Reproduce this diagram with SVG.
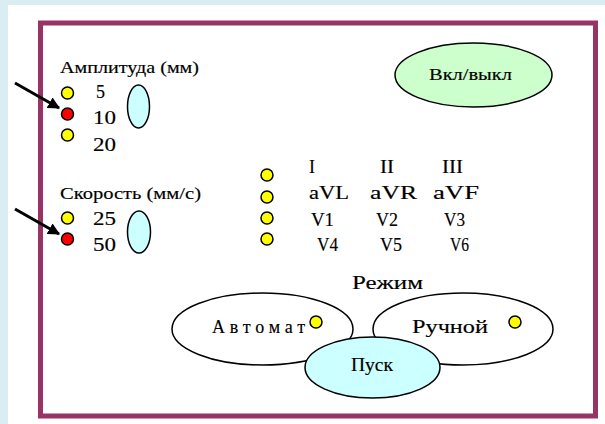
<svg xmlns="http://www.w3.org/2000/svg" width="605" height="424" viewBox="0 0 605 424">
<style>
text{font-family:'Liberation Serif','DejaVu Serif','Times New Roman',serif;font-size:18px;fill:#000;stroke:#000;stroke-width:0.15}
.lbl{font-size:16px}
.y{fill:#ffff00;stroke:#000;stroke-width:1.5}
.r{fill:#ff0000;stroke:#000;stroke-width:1.5}
.cy{fill:#ccffff;stroke:#000;stroke-width:1.5}
.wh{fill:#fff;stroke:#000;stroke-width:1.5}
.gr{fill:#ccffcc;stroke:#000;stroke-width:1.5}
.arr{stroke:#000;stroke-width:3;fill:none;marker-end:url(#ah)}
</style>
<defs>
<marker id="ah" viewBox="0 0 10 10" refX="9" refY="5" markerWidth="4" markerHeight="4" orient="auto" markerUnits="strokeWidth">
<path d="M0,0 L10,5 L0,10 z" fill="#000"/>
</marker>
</defs>
<rect x="0" y="0" width="605" height="424" fill="#daedf3"/>
<rect x="8" y="5" width="597" height="419" fill="#fff"/>
<rect x="40.5" y="23" width="555" height="393" fill="#fff" stroke="#993366" stroke-width="5"/>

<g id="amplitude">
<text class="lbl" x="60" y="73" textLength="139" lengthAdjust="spacingAndGlyphs">Амплитуда (мм)</text>
<circle class="y" cx="67.5" cy="93" r="6"/>
<circle class="r" cx="67.5" cy="114" r="6"/>
<circle class="y" cx="67.5" cy="135" r="6"/>
<text x="96" y="98">5</text>
<text x="93" y="124" textLength="23" lengthAdjust="spacingAndGlyphs">10</text>
<text x="93" y="151" textLength="23" lengthAdjust="spacingAndGlyphs">20</text>
<ellipse class="cy" cx="138.5" cy="106.5" rx="11" ry="21.5"/>
</g>

<g id="speed">
<text class="lbl" x="60" y="199" textLength="141" lengthAdjust="spacingAndGlyphs">Скорость (мм/с)</text>
<circle class="y" cx="67.5" cy="218" r="6"/>
<circle class="r" cx="67.5" cy="239" r="6"/>
<text x="93" y="225" textLength="23" lengthAdjust="spacingAndGlyphs">25</text>
<text x="93" y="251" textLength="23" lengthAdjust="spacingAndGlyphs">50</text>
<ellipse class="cy" cx="139" cy="232" rx="11.5" ry="21"/>
</g>

<g id="leads">
<circle class="y" cx="267" cy="175" r="6"/>
<circle class="y" cx="267" cy="197" r="6"/>
<circle class="y" cx="267" cy="218" r="6"/>
<circle class="y" cx="267" cy="239" r="6"/>
<text x="309" y="173">I</text>
<text x="380" y="173" textLength="14" lengthAdjust="spacingAndGlyphs">II</text>
<text x="442" y="173" textLength="21" lengthAdjust="spacingAndGlyphs">III</text>
<text x="309" y="199" textLength="40" lengthAdjust="spacingAndGlyphs">aVL</text>
<text x="370" y="199" textLength="47" lengthAdjust="spacingAndGlyphs">aVR</text>
<text x="433" y="199" textLength="46" lengthAdjust="spacingAndGlyphs">aVF</text>
<text x="311" y="226" textLength="23" lengthAdjust="spacingAndGlyphs">V1</text>
<text x="376" y="226" textLength="22" lengthAdjust="spacingAndGlyphs">V2</text>
<text x="444" y="226" textLength="21" lengthAdjust="spacingAndGlyphs">V3</text>
<text x="317" y="251" textLength="21" lengthAdjust="spacingAndGlyphs">V4</text>
<text x="380" y="251" textLength="22" lengthAdjust="spacingAndGlyphs">V5</text>
<text x="450" y="251" textLength="19" lengthAdjust="spacingAndGlyphs">V6</text>
</g>

<g id="onoff">
<ellipse class="gr" cx="473.5" cy="75" rx="78.5" ry="32"/>
<text class="lbl" x="429" y="80" textLength="83" lengthAdjust="spacingAndGlyphs">Вкл/выкл</text>
</g>

<g id="mode">
<text x="352" y="289" textLength="71" lengthAdjust="spacingAndGlyphs">Режим</text>
</g>

<g id="auto">
<ellipse class="wh" cx="262.5" cy="329" rx="90.5" ry="36"/>
<text x="212" y="333" textLength="93" lengthAdjust="spacing">Автомат</text>
<circle class="y" cx="316" cy="322" r="6"/>
</g>

<g id="manual">
<ellipse class="wh" cx="463" cy="329" rx="90" ry="36"/>
<text x="412" y="333" textLength="76" lengthAdjust="spacingAndGlyphs">Ручной</text>
<circle class="y" cx="515" cy="322" r="6"/>
</g>

<g id="start">
<ellipse class="cy" cx="372.5" cy="367.5" rx="67.5" ry="30.5"/>
<text x="351" y="371" textLength="42" lengthAdjust="spacingAndGlyphs">Пуск</text>
</g>

<g id="connectors">
<line class="arr" x1="15" y1="83" x2="59" y2="108"/>
<line class="arr" x1="15" y1="209" x2="59" y2="234"/>
</g>
</svg>
